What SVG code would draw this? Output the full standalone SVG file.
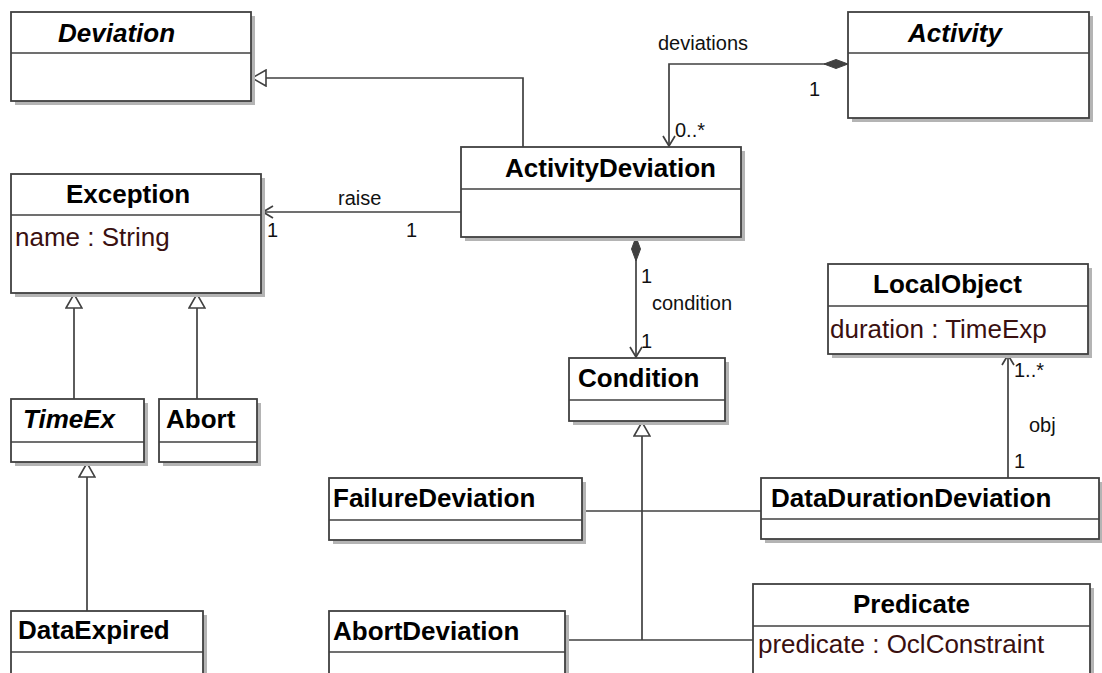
<svg xmlns="http://www.w3.org/2000/svg" width="1102" height="673" viewBox="0 0 1102 673">
  <style>
    .shadow { fill: #b4b4b4; }
    .box { fill: #ffffff; stroke: #404040; stroke-width: 1.8; }
    .div { stroke: #404040; stroke-width: 1.6; }
    .title { font-family: "Liberation Sans", Arial, sans-serif; font-size: 26px; font-weight: bold; fill: #000000; }
    .abstract { font-style: italic; }
    .attr { font-family: "Liberation Sans", Arial, sans-serif; font-size: 26px; fill: #3a1010; }
    .lbl { font-family: "Liberation Sans", Arial, sans-serif; font-size: 20px; fill: #111111; }
    .edge { fill: none; stroke: #404040; stroke-width: 1.7; }
  </style>
  <defs>
    <marker id="openArrow" viewBox="0 0 12 14" refX="11" refY="7" markerWidth="12" markerHeight="14" markerUnits="userSpaceOnUse" orient="auto">
      <path d="M1,1 L11,7 L1,13" fill="none" stroke="#404040" stroke-width="1.7"/>
    </marker>
    <marker id="genTriangle" viewBox="0 0 16 18" refX="15" refY="9" markerWidth="16" markerHeight="18" markerUnits="userSpaceOnUse" orient="auto">
      <path d="M1,1 L15,9 L1,17 Z" fill="#ffffff" stroke="#404040" stroke-width="1.6"/>
    </marker>
    <marker id="composite" viewBox="0 0 24 10" refX="0" refY="5" markerWidth="24" markerHeight="10" markerUnits="userSpaceOnUse" orient="auto">
      <path d="M0,5 L12,0.5 L24,5 L12,9.5 Z" fill="#404040" stroke="#404040" stroke-width="1"/>
    </marker>
  </defs>

  <rect width="1102" height="673" fill="#ffffff"/>

  <!-- associations and generalizations -->
  <g id="connectors">
    <!-- ActivityDeviation specializes Deviation -->
    <path class="edge" d="M523,147 L523,78 L252,78" marker-end="url(#genTriangle)"/>
    <!-- Activity owns deviations -->
    <path class="edge" d="M848,64 L669,64 L669,146" marker-start="url(#composite)" marker-end="url(#openArrow)"/>
    <text class="lbl" x="658" y="50">deviations</text>
    <text class="lbl" x="809" y="96">1</text>
    <text class="lbl" x="675" y="137">0..*</text>
    <!-- raise -->
    <path class="edge" d="M461,212 L263,212" marker-end="url(#openArrow)"/>
    <text class="lbl" x="338" y="205">raise</text>
    <text class="lbl" x="267" y="237">1</text>
    <text class="lbl" x="406" y="237">1</text>
    <!-- condition -->
    <path class="edge" d="M636,237 L636,357" marker-start="url(#composite)" marker-end="url(#openArrow)"/>
    <text class="lbl" x="641" y="283">1</text>
    <text class="lbl" x="652" y="310">condition</text>
    <text class="lbl" x="641" y="348">1</text>
    <!-- Exception subclasses -->
    <path class="edge" d="M74,399 L74,294" marker-end="url(#genTriangle)"/>
    <path class="edge" d="M197,399 L197,294" marker-end="url(#genTriangle)"/>
    <!-- TimeEx subclass -->
    <path class="edge" d="M87,611 L87,463" marker-end="url(#genTriangle)"/>
    <!-- Condition subclasses -->
    <path class="edge" d="M642,640 L642,422" marker-end="url(#genTriangle)"/>
    <path class="edge" d="M582,511 L761,511"/>
    <path class="edge" d="M565,640 L753,640"/>
    <!-- obj -->
    <path class="edge" d="M1008,478 L1008,355" marker-end="url(#openArrow)"/>
    <text class="lbl" x="1014" y="377">1..*</text>
    <text class="lbl" x="1029" y="432">obj</text>
    <text class="lbl" x="1014" y="468">1</text>
  </g>

  <g id="Deviation">
    <rect class="shadow" x="15" y="16" width="240" height="89"/>
    <rect class="box" x="11" y="12" width="240" height="89"/>
    <line class="div" x1="11" y1="53" x2="251" y2="53"/>
    <text class="title abstract" x="58" y="42">Deviation</text>
  </g>

  <g id="Activity">
    <rect class="shadow" x="852" y="16" width="241" height="106"/>
    <rect class="box" x="848" y="12" width="241" height="106"/>
    <line class="div" x1="848" y1="53" x2="1089" y2="53"/>
    <text class="title abstract" x="908" y="42">Activity</text>
  </g>

  <g id="ActivityDeviation">
    <rect class="shadow" x="465" y="151" width="280" height="90"/>
    <rect class="box" x="461" y="147" width="280" height="90"/>
    <line class="div" x1="461" y1="189" x2="741" y2="189"/>
    <text class="title" x="505" y="177">ActivityDeviation</text>
  </g>

  <g id="Exception">
    <rect class="shadow" x="15" y="178" width="250" height="119"/>
    <rect class="box" x="11" y="174" width="250" height="119"/>
    <line class="div" x1="11" y1="215" x2="261" y2="215"/>
    <text class="title" x="66" y="203">Exception</text>
    <text class="attr" x="15" y="246">name : String</text>
  </g>

  <g id="LocalObject">
    <rect class="shadow" x="832" y="268" width="260" height="90"/>
    <rect class="box" x="828" y="264" width="260" height="90"/>
    <line class="div" x1="828" y1="306" x2="1088" y2="306"/>
    <text class="title" x="873" y="293">LocalObject</text>
    <text class="attr" x="830" y="338">duration : TimeExp</text>
  </g>

  <g id="Condition">
    <rect class="shadow" x="573" y="362" width="156" height="63"/>
    <rect class="box" x="569" y="358" width="156" height="63"/>
    <line class="div" x1="569" y1="400" x2="725" y2="400"/>
    <text class="title" x="578" y="387">Condition</text>
  </g>

  <g id="TimeEx">
    <rect class="shadow" x="15" y="403" width="133" height="63"/>
    <rect class="box" x="11" y="399" width="133" height="63"/>
    <line class="div" x1="11" y1="442" x2="144" y2="442"/>
    <text class="title abstract" x="23" y="428">TimeEx</text>
  </g>

  <g id="Abort">
    <rect class="shadow" x="163" y="403" width="98" height="63"/>
    <rect class="box" x="159" y="399" width="98" height="63"/>
    <line class="div" x1="159" y1="442" x2="257" y2="442"/>
    <text class="title" x="166" y="428">Abort</text>
  </g>

  <g id="FailureDeviation">
    <rect class="shadow" x="333" y="482" width="253" height="62"/>
    <rect class="box" x="329" y="478" width="253" height="62"/>
    <line class="div" x1="329" y1="520" x2="582" y2="520"/>
    <text class="title" x="333" y="507">FailureDeviation</text>
  </g>

  <g id="DataDurationDeviation">
    <rect class="shadow" x="765" y="482" width="338" height="61"/>
    <rect class="box" x="761" y="478" width="338" height="61"/>
    <line class="div" x1="761" y1="519" x2="1099" y2="519"/>
    <text class="title" x="771" y="507">DataDurationDeviation</text>
  </g>

  <g id="Predicate">
    <rect class="shadow" x="757" y="588" width="337" height="100"/>
    <rect class="box" x="753" y="584" width="337" height="100"/>
    <line class="div" x1="753" y1="626" x2="1090" y2="626"/>
    <text class="title" x="853" y="613">Predicate</text>
    <text class="attr" x="758" y="653">predicate : OclConstraint</text>
  </g>

  <g id="DataExpired">
    <rect class="shadow" x="15" y="615" width="192" height="80"/>
    <rect class="box" x="11" y="611" width="192" height="80"/>
    <line class="div" x1="11" y1="652" x2="203" y2="652"/>
    <text class="title" x="18" y="639">DataExpired</text>
  </g>

  <g id="AbortDeviation">
    <rect class="shadow" x="333" y="615" width="236" height="80"/>
    <rect class="box" x="329" y="611" width="236" height="80"/>
    <line class="div" x1="329" y1="652" x2="565" y2="652"/>
    <text class="title" x="333" y="640">AbortDeviation</text>
  </g>
</svg>
